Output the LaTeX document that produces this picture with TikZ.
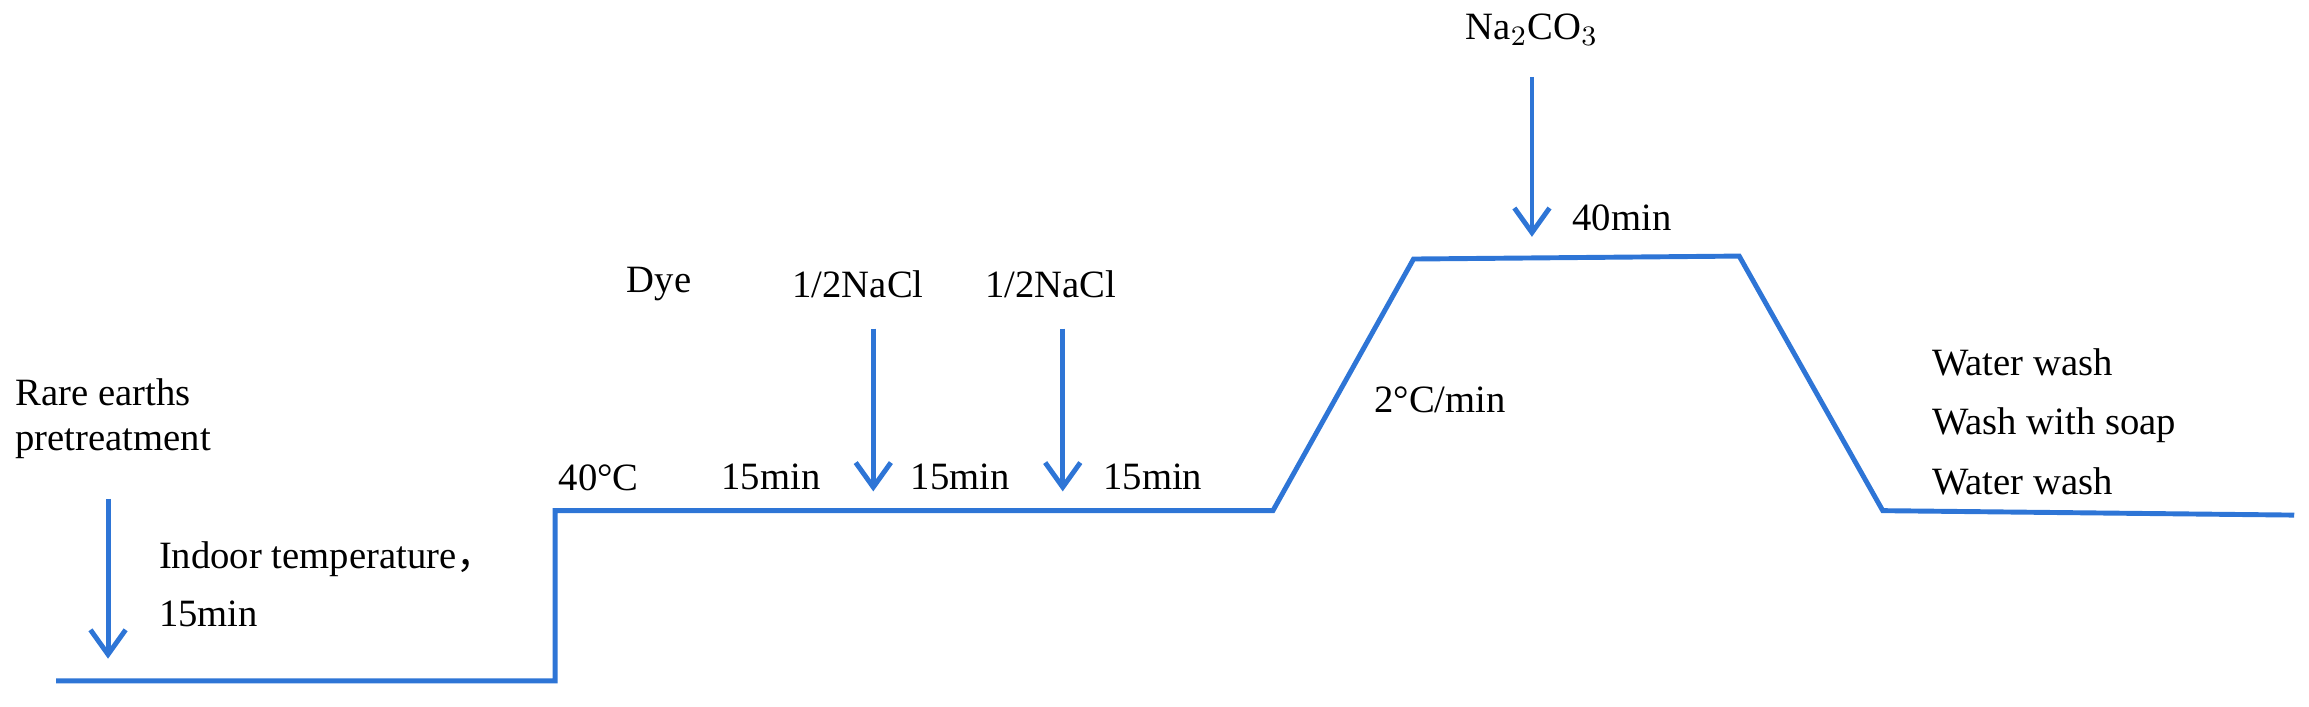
\documentclass[tikz,border=0pt]{standalone}
\usepackage{fontspec}
\setmainfont{Liberation Serif}
\newfontfamily\cjk{Noto Sans CJK SC}
\usetikzlibrary{arrows.meta}
\definecolor{ln}{RGB}{46,117,214}
\begin{document}
\begin{tikzpicture}[x=0.0148cm,y=-0.0148cm,
  curve/.style={ln,line width=1.4pt,line join=miter},
  arr/.style={ln,line width=1.4pt,-{Straight Barb[length=7pt,width=10pt,line width=1.4pt]}},
  lbl/.style={font=\rmfamily\fontsize{11}{13.5}\selectfont,inner sep=0pt},
  lft/.style={lbl,anchor=west}]
\useasboundingbox (0,0) rectangle (1560,477.6);
\coordinate (p0) at (38,460); \coordinate (p1) at (375,460); \coordinate (p2) at (375,345);
\coordinate (p3) at (860,345); \coordinate (p4) at (955,175); \coordinate (p5) at (1175,173);
\coordinate (p6) at (1272,345); \coordinate (p7) at (1550,348);
\draw[curve] (p0)--(p1)--(p2)--(p3)--(p4)--(p5)--(p6)--(p7);
\coordinate (a1s) at (73,337); \coordinate (a1e) at (73,445);
\coordinate (a2s) at (590,222); \coordinate (a2e) at (590,332);
\coordinate (a3s) at (718,222); \coordinate (a3e) at (718,332);
\coordinate (a4s) at (1035,52); \coordinate (a4e) at (1035,160);
\draw[arr] (a1s)--(a1e); \draw[arr] (a2s)--(a2e); \draw[arr] (a3s)--(a3e); \draw[arr] (a4s)--(a4e);
\node[lft] (t1) at (10,265) {Rare earths};
\node[lft] (t2) at (10,300) {pretreatment};
\node[lft] (t3) at (107,378) {Indoor temperature{\cjk ，}};
\node[lft] (t4) at (107,415) {15min};
\node[lft] (t5) at (377,323) {40°C};
\node[lft] (t6) at (487,322) {15min};
\node[lft] (t7) at (615,322) {15min};
\node[lft] (t8) at (745,322) {15min};
\node[lft] (t9) at (423,192) {Dye};
\node[lft] (t10) at (535,192) {1/2NaCl};
\node[lft] (t11) at (665,192) {1/2NaCl};
\node[lft] (t12) at (928,270) {2°C/min};
\node[lft] (t13) at (1062,147) {40min};
\node[lbl] (t14) at (1035,20) {Na$_2$CO$_3$};
\node[lft] (t15) at (1305,245) {Water wash};
\node[lft] (t16) at (1305,287) {Wash with soap};
\node[lft] (t17) at (1305,325) {Water wash};
\end{tikzpicture}
\end{document}
